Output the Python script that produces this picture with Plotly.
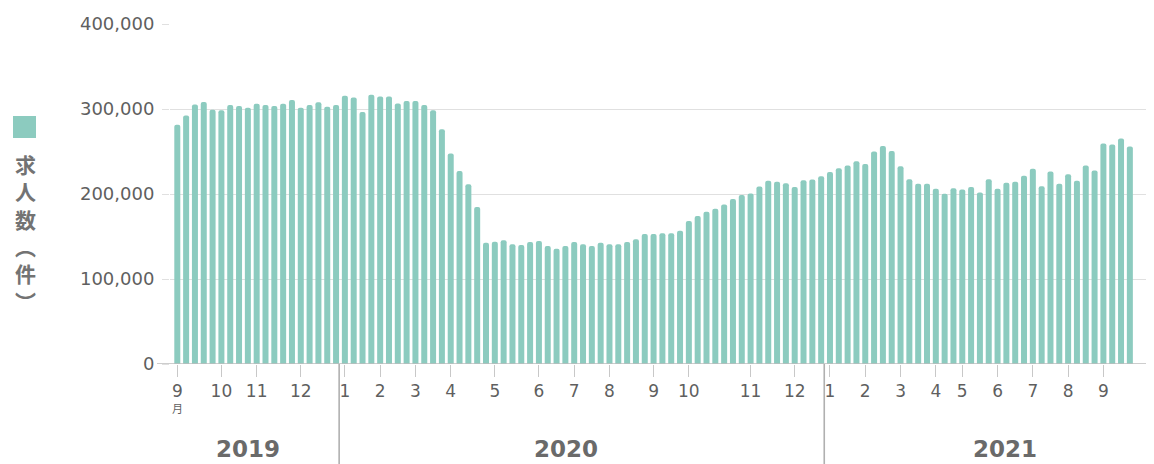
import plotly.graph_objects as go

# ---- data -------------------------------------------------------------
values = [
    281600, 292500, 305400, 308200, 299200, 298400, 304700, 303500, 301500, 306200,
    304700, 303500, 306200, 310500, 301500, 304700, 307800, 302700, 304700,
    315600, 313600, 296400, 316800, 314800, 314800, 306600, 309300, 309300, 304700,
    298400, 276100, 247600, 227200, 211600, 184600, 142700, 143900, 145500, 140800,
    140000, 143500, 144700, 138800, 135700, 138800, 143500, 140800, 138800, 142700,
    140800, 140800, 143500, 146700, 152900, 152900, 153700, 153700, 156800, 168200,
    174000, 179100, 182600, 187700, 194000, 198700, 200600, 208800, 215500, 214300,
    212700, 208100, 216300, 217100, 221000,
    226000, 230300, 233500, 238600, 235400, 249900, 256500, 250700, 232700, 217400,
    212000, 212000, 206100, 200200, 206900, 205300, 208100, 201800, 217400, 206100,
    213100, 214300, 221400, 229600, 209200, 226400, 212000, 223300, 215500, 233500,
    227600, 259300, 258100, 265200, 255800,
]
month_tick_idx = [0, 5, 9, 14, 19, 23, 27, 31, 36, 41, 45, 49, 54, 58, 65, 70,
                  74, 78, 82, 86, 89, 93, 97, 101, 105]
month_tick_text = ["9", "10", "11", "12", "1", "2", "3", "4", "5", "6", "7", "8",
                   "9", "10", "11", "12", "1", "2", "3", "4", "5", "6", "7", "8", "9"]
years = ["2019", "2020", "2021"]
year_first_idx = [0, 19, 74]
year_label_pos = [8.0, 44.1, 93.8]
y_ticks = [0, 100000, 200000, 300000, 400000]
series_name = "求人数（件）"
legend_chars = ["求", "人", "数", "︵", "件", "︶"]

# ---- styling ----------------------------------------------------------
BAR = "#8ccbbf"
TXT = "#5f5f5f"
GRID = "#e0e0e0"
OFF = 8                       # page body margin
W, H = 1154 - OFF, 464 - OFF
ML, MR, MT, MB = 170 - OFF, 0, 24 - OFF, 100
PW, PH = W - ML - MR, H - MT - MB
PITCH = 8.82
PLOT_BOTTOM = 364             # screenshot pixel of y=0


def px_x(px):
    return (px - OFF - ML) / PW


def px_y(py):
    return (PLOT_BOTTOM - py) / PH


x_idx = list(range(len(values)))
x0 = -(177.3 - OFF - ML) / PITCH

fig = go.Figure()
fig.add_trace(go.Bar(x=x_idx, y=values, marker=dict(color=BAR, line=dict(width=0)),
                     name=series_name, hoverinfo="y"))

shapes = []
# zero baseline, extended slightly left
shapes.append(dict(type="line", xref="paper", yref="y", x0=px_x(157), x1=1, y0=0, y1=0,
                   line=dict(color="#bdbdbd", width=1.3), layer="above"))
# year dividers
for fi in year_first_idx[1:]:
    xv = fi - 1 + 0.35
    shapes.append(dict(type="line", xref="x", yref="paper", x0=xv, x1=xv, y0=0, y1=px_y(470),
                       line=dict(color="#b0b0b0", width=1.6), layer="above"))
# legend square
shapes.append(dict(type="rect", xref="paper", yref="paper", x0=px_x(13), x1=px_x(36),
                   y0=px_y(138), y1=px_y(116), fillcolor=BAR, line=dict(width=0)))

annotations = []
for yr, pos in zip(years, year_label_pos):
    annotations.append(dict(text=yr, x=pos, xref="x", y=px_y(449), yref="paper",
                            showarrow=False, xanchor="center", yanchor="middle",
                            font=dict(family="DejaVu Sans", size=23, color="#6a6a6a",
                                      weight="bold")))
annotations.append(dict(text="月", x=0, xref="x", y=px_y(408), yref="paper", showarrow=False,
                        xanchor="center", yanchor="middle",
                        font=dict(family="Noto Sans CJK JP", size=11, color=TXT)))
annotations.append(dict(text="<br>".join(legend_chars), x=px_x(25), xref="paper",
                        y=px_y(232), yref="paper", showarrow=False,
                        xanchor="center", yanchor="middle", align="center",
                        font=dict(family="Noto Sans CJK JP", size=21, color="#737373",
                                  weight="bold")))

fig.update_layout(
    width=W, height=H,
    margin=dict(l=ML, r=MR, t=MT, b=MB, pad=0),
    paper_bgcolor="white", plot_bgcolor="white",
    showlegend=False,
    bargap=0.32,
    barcornerradius=2,
    shapes=shapes,
    annotations=annotations,
    font=dict(family="DejaVu Sans", color=TXT),
    xaxis=dict(
        range=[x0, x0 + PW / PITCH],
        tickmode="array", tickvals=month_tick_idx, ticktext=month_tick_text,
        ticks="outside", ticklen=12, tickcolor="#c8c8c8", tickwidth=1,
        tickfont=dict(family="DejaVu Sans", size=17, color=TXT),
        showgrid=False, zeroline=False, showline=False,
        fixedrange=True,
    ),
    yaxis=dict(
        range=[0, 400000],
        tickmode="array", tickvals=y_ticks, tickformat=",d",
        ticks="outside", ticklen=7, tickcolor=GRID, tickwidth=1,
        tickfont=dict(family="DejaVu Sans", size=18, color=TXT),
        ticklabelstandoff=4,
        showgrid=True, gridcolor=GRID, gridwidth=1,
        zeroline=False, showline=False,
        fixedrange=True,
    ),
)

fig.write_html("out.html")
